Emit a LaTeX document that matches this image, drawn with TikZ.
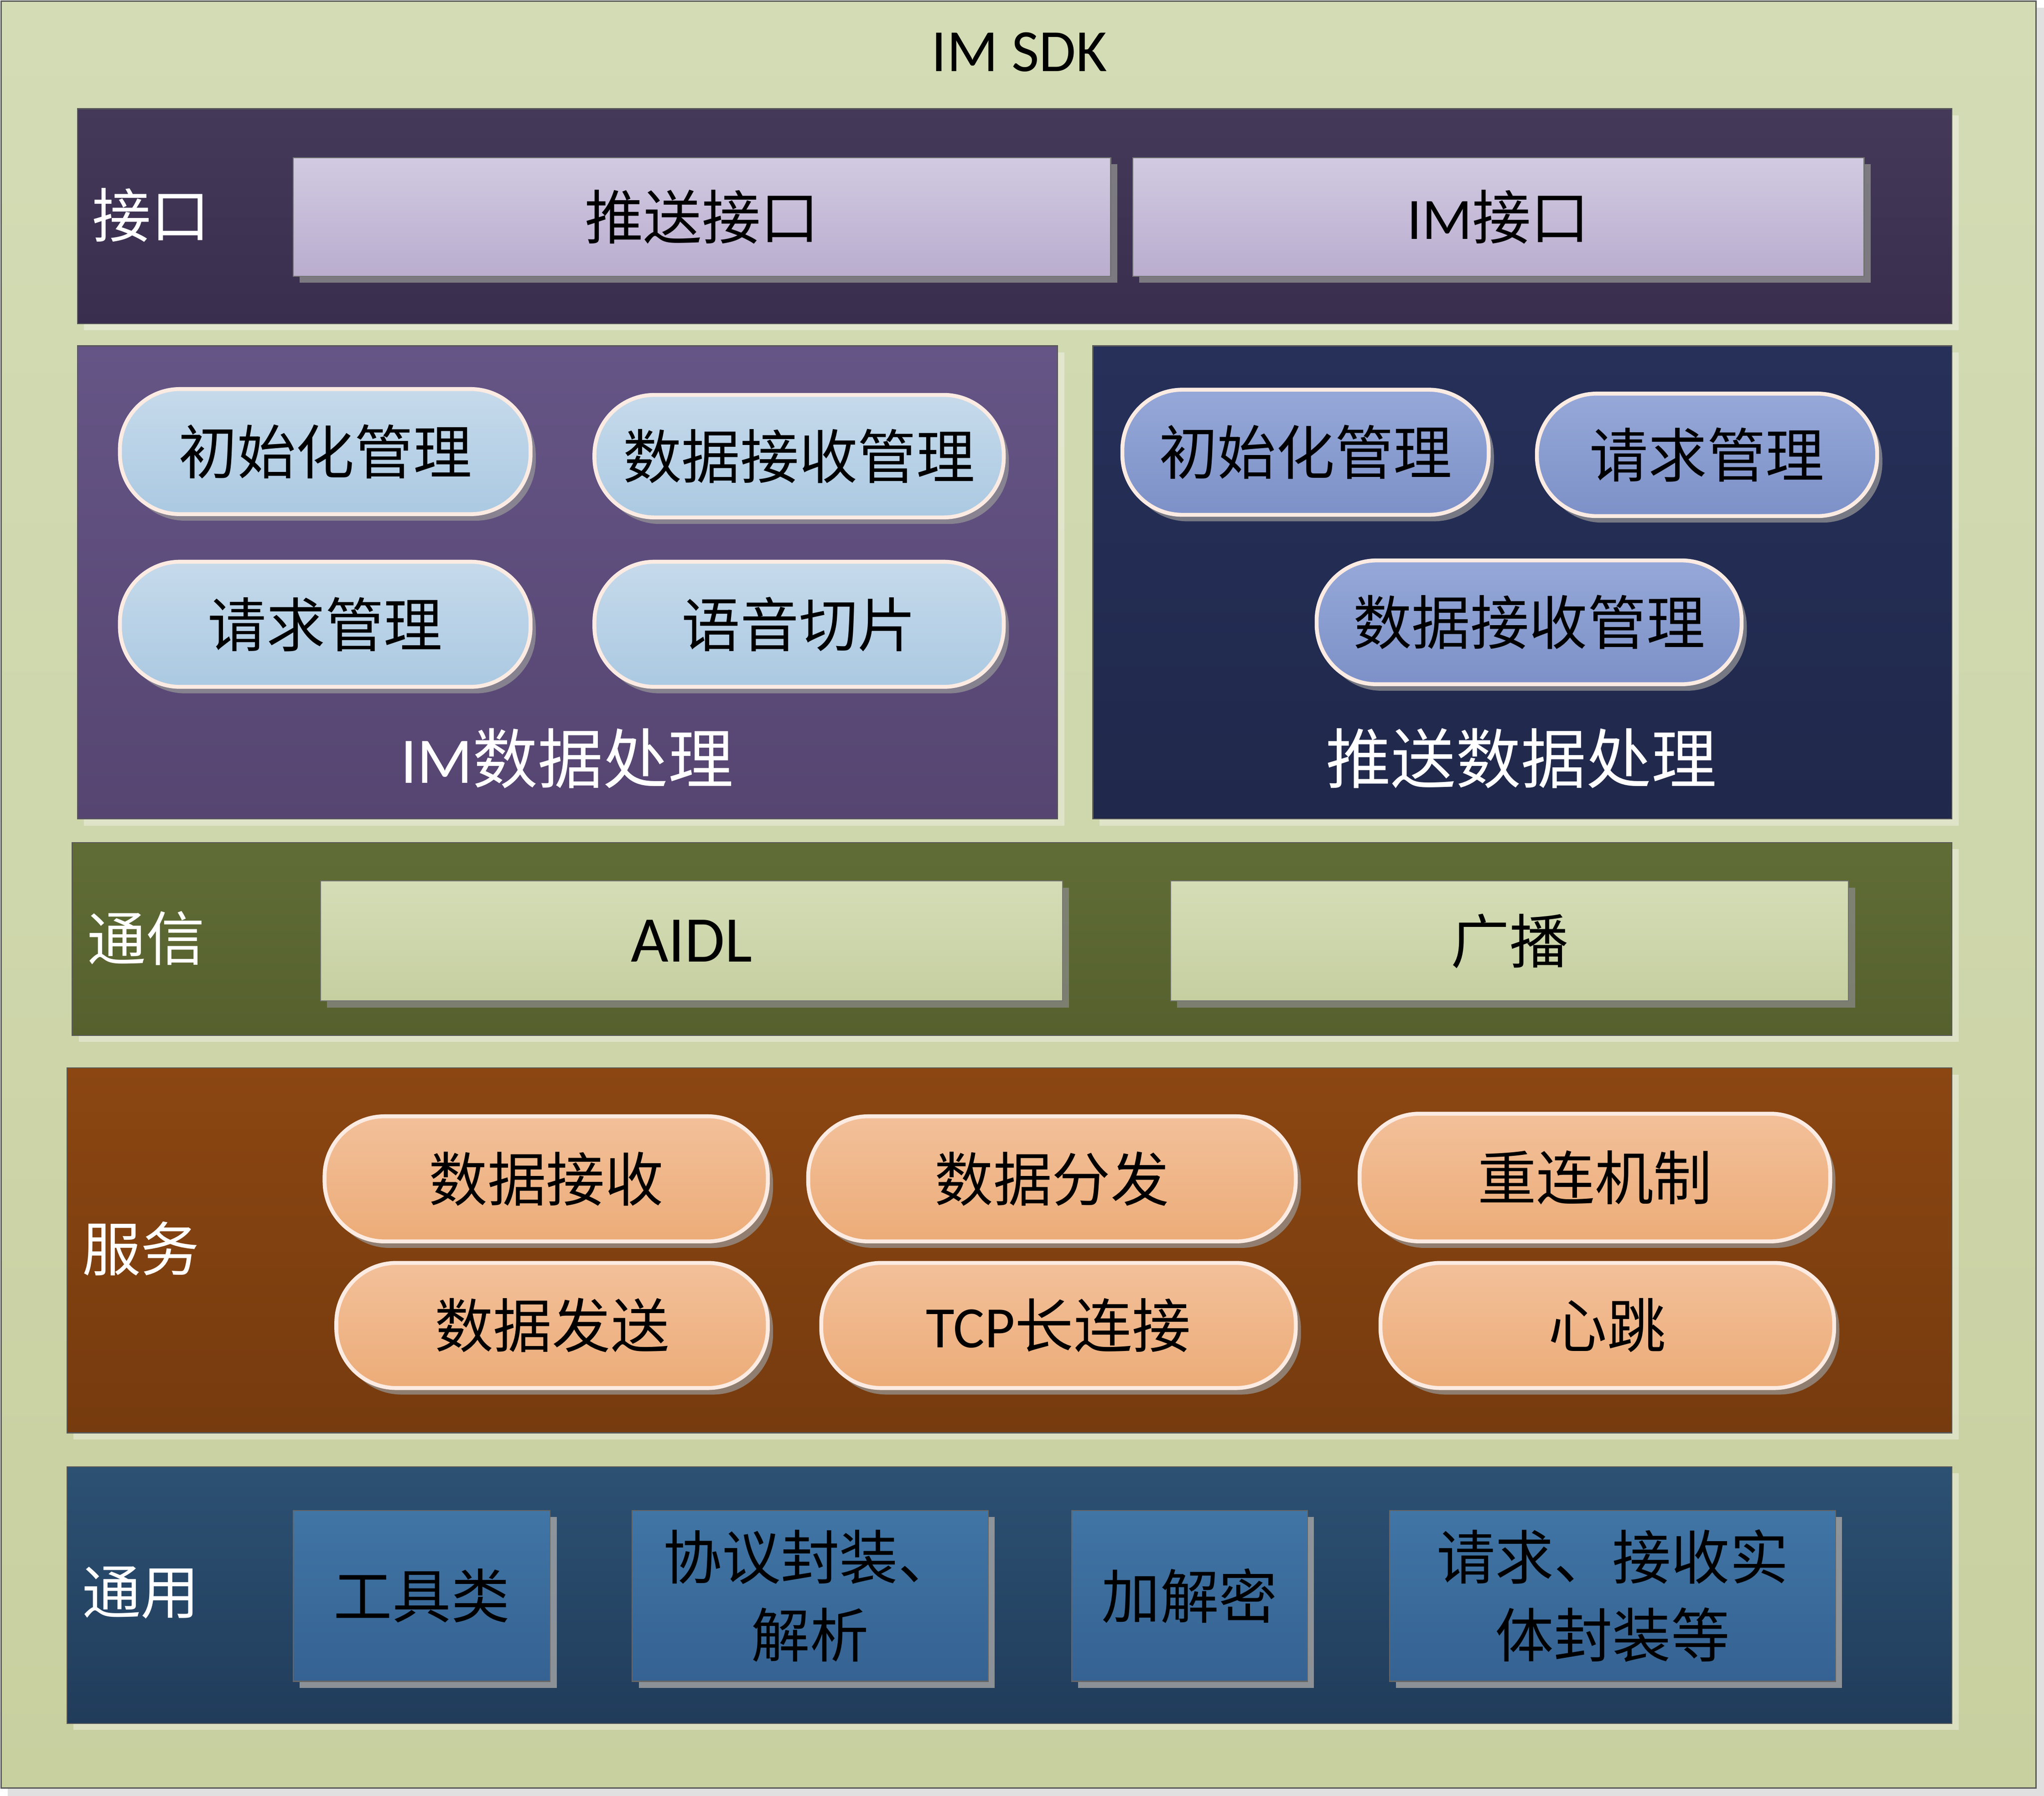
\documentclass[tikz,border=0pt]{standalone}
\usepackage{fontspec}
\setmainfont{Carlito}
\newfontfamily\cjk{Noto Sans CJK SC}
\usetikzlibrary{shadows}
\newcommand\zh[1]{{\cjk #1}}
\newcommand\fsz{\fontsize{45}{60}\selectfont}
\newcommand\fbg{\fontsize{50}{60}\selectfont}
\definecolor{bgtop}{HTML}{D4DCB6}
\definecolor{bgbot}{HTML}{C8D0A0}
\definecolor{ifT}{HTML}{443959}
\definecolor{ifB}{HTML}{3A2E4E}
\definecolor{lavT}{HTML}{D1CAE1}
\definecolor{lavB}{HTML}{BAADCF}
\definecolor{imT}{HTML}{655586}
\definecolor{imB}{HTML}{564571}
\definecolor{ltbT}{HTML}{C6DAEB}
\definecolor{ltbB}{HTML}{ABC9E2}
\definecolor{psT}{HTML}{263059}
\definecolor{psB}{HTML}{20284B}
\definecolor{perT}{HTML}{96A8D8}
\definecolor{perB}{HTML}{7D91C8}
\definecolor{txT}{HTML}{616D36}
\definecolor{txB}{HTML}{55602E}
\definecolor{lgT}{HTML}{D5DDB7}
\definecolor{lgB}{HTML}{C6CFA0}
\definecolor{svT}{HTML}{8B4612}
\definecolor{svB}{HTML}{763B0E}
\definecolor{orT}{HTML}{F3C09A}
\definecolor{orB}{HTML}{ECAC78}
\definecolor{cmT}{HTML}{2C5173}
\definecolor{cmB}{HTML}{213C5B}
\definecolor{blT}{HTML}{4075A5}
\definecolor{blB}{HTML}{356292}
\definecolor{pillrim}{HTML}{FCEBE2}
\tikzset{
  panel/.style={draw=black!65, line width=0.8pt, inner sep=0pt, anchor=north west,
    drop shadow={shadow xshift=5pt, shadow yshift=-5pt, fill=white, opacity=0.35}},
  lbl/.style={text=white, font=\fsz\cjk, inner sep=0pt},
  flatbox/.style={draw=black!55, line width=0.8pt, inner sep=0pt,
    font=\fsz, text=black, align=center},
  pill/.style={draw=pillrim, line width=3pt, rounded corners=46pt, inner sep=0pt,
    font=\fsz, text=black, align=center, minimum height=96pt,
    drop shadow={shadow xshift=4pt, shadow yshift=-5pt, fill=black!40, opacity=0.7}},
}
\begin{document}
\begin{tikzpicture}[x=1pt,y=-1pt]
\useasboundingbox (0,0) rectangle (1568,1378);
% outer frame
\fill[black!12] (6,6) rectangle (1568,1378);
\node[draw=black!65, line width=0.8pt, top color=bgtop, bottom color=bgbot,
  minimum width=1561pt, minimum height=1371pt, inner sep=0pt, anchor=north west]
  (frame) at (0.5,0.5) {};
\node[font=\fontsize{46}{50}\selectfont, inner sep=0pt] (title) at (782,40) {IM SDK};

% interface layer
\node[panel, top color=ifT, bottom color=ifB, minimum width=1438pt, minimum height=165pt] (p1) at (59,83) {};
\node[lbl] (l1) at (116,165) {接口};
\node[flatbox, top color=lavT, bottom color=lavB, minimum width=627pt, minimum height=91pt,
  drop shadow={shadow xshift=5pt, shadow yshift=-5pt, fill=black!45, opacity=0.8}] (b11) at (538.5,166.5) {\zh{推送接口}};
\node[flatbox, top color=lavT, bottom color=lavB, minimum width=561pt, minimum height=91pt,
  drop shadow={shadow xshift=5pt, shadow yshift=-5pt, fill=black!45, opacity=0.8}] (b12) at (1149.5,166.5) {IM\zh{接口}};

% IM data processing
\node[panel, top color=imT, bottom color=imB, minimum width=752pt, minimum height=363pt] (p2) at (59,265) {};
\node[pill, top color=ltbT, bottom color=ltbB, minimum width=315pt] (b21) at (249.5,346.5) {\zh{初始化管理}};
\node[pill, top color=ltbT, bottom color=ltbB, minimum width=314pt, minimum height=94pt] (b22) at (613,350) {\zh{数据接收管理}};
\node[pill, top color=ltbT, bottom color=ltbB, minimum width=315pt] (b23) at (249.5,479) {\zh{请求管理}};
\node[pill, top color=ltbT, bottom color=ltbB, minimum width=314pt] (b24) at (613,479) {\zh{语音切片}};
\node[lbl, font=\fbg] (l2) at (435,582) {IM\zh{数据处理}};

% push data processing
\node[panel, top color=psT, bottom color=psB, minimum width=659pt, minimum height=363pt] (p3) at (838,265) {};
\node[pill, top color=perT, bottom color=perB, minimum width=281pt] (b31) at (1001.5,347) {\zh{初始化管理}};
\node[pill, top color=perT, bottom color=perB, minimum width=261pt, minimum height=94pt] (b32) at (1309.5,349) {\zh{请求管理}};
\node[pill, top color=perT, bottom color=perB, minimum width=326pt, minimum height=95pt] (b33) at (1173,477.5) {\zh{数据接收管理}};
\node[lbl, font=\fbg\cjk] (l3) at (1167,582) {推送数据处理};

% communication
\node[panel, top color=txT, bottom color=txB, minimum width=1442pt, minimum height=148pt] (p4) at (55,646) {};
\node[lbl] (l4) at (112,720) {通信};
\node[flatbox, top color=lgT, bottom color=lgB, minimum width=569pt, minimum height=92pt,
  drop shadow={shadow xshift=5pt, shadow yshift=-5pt, fill=black!45, opacity=0.7}] (b41) at (530.5,722) {\fontsize{50}{60}\selectfont AIDL};
\node[flatbox, top color=lgT, bottom color=lgB, minimum width=520pt, minimum height=92pt,
  drop shadow={shadow xshift=5pt, shadow yshift=-5pt, fill=black!45, opacity=0.7}] (b42) at (1158,722) {\zh{广播}};

% service
\node[panel, top color=svT, bottom color=svB, minimum width=1446pt, minimum height=280pt] (p5) at (51,819) {};
\node[lbl] (l5) at (108,958) {服务};
\node[pill, top color=orT, bottom color=orB, minimum width=340pt] (b51) at (419,904.5) {\zh{数据接收}};
\node[pill, top color=orT, bottom color=orB, minimum width=374pt] (b52) at (807,904.5) {\zh{数据分发}};
\node[pill, top color=orT, bottom color=orB, minimum width=361pt, minimum height=98pt] (b53) at (1223.5,903.5) {\zh{重连机制}};
\node[pill, top color=orT, bottom color=orB, minimum width=331pt] (b54) at (423.5,1017) {\zh{数据发送}};
\node[pill, top color=orT, bottom color=orB, minimum width=364pt] (b55) at (812,1017) {TCP\zh{长连接}};
\node[pill, top color=orT, bottom color=orB, minimum width=348pt] (b56) at (1233,1017) {\zh{心跳}};

% common
\node[panel, top color=cmT, bottom color=cmB, minimum width=1446pt, minimum height=197pt] (p6) at (51,1125) {};
\node[lbl] (l6) at (108,1222) {通用};
\tikzset{bluebox/.style={flatbox, draw=black!60, top color=blT, bottom color=blB, minimum height=131pt,
  drop shadow={shadow xshift=5pt, shadow yshift=-5pt, fill=black!35, opacity=0.8}}}
\node[bluebox, minimum width=197pt] (b61) at (323.5,1224.5) {\zh{工具类}};
\node[bluebox, minimum width=273pt] (b62) at (621.5,1224.5) {\zh{协议封装、}\\\zh{解析}};
\node[bluebox, minimum width=181pt] (b63) at (912.5,1224.5) {\zh{加解密}};
\node[bluebox, minimum width=342pt] (b64) at (1237,1224.5) {\zh{请求、接收实}\\\zh{体封装等}};
\end{tikzpicture}
\end{document}
